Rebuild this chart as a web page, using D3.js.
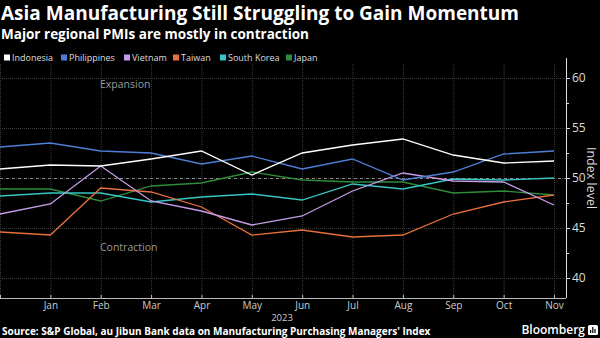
<!DOCTYPE html>
<html>
<head>
<meta charset="utf-8">
<script src="https://cdn.jsdelivr.net/npm/d3@7"></script>
<style>
  html, body { margin: 0; padding: 0; background: #000; }
  svg { display: block; font-family: "Open Sans", "Noto Sans", sans-serif; }
</style>
</head>
<body>
<svg id="chart" width="600" height="338"></svg>
<script>
// months plotted, Dec 2022 through Nov 2023
var months = ['Dec', 'Jan', 'Feb', 'Mar', 'Apr', 'May', 'Jun', 'Jul', 'Aug', 'Sep', 'Oct', 'Nov'];
var tickMonths = ['Jan', 'Feb', 'Mar', 'Apr', 'May', 'Jun', 'Jul', 'Aug', 'Sep', 'Oct', 'Nov'];
var yTicks = [40, 45, 50, 55, 60];

var countries = ['Indonesia', 'Philippines', 'Vietnam', 'Taiwan', 'South Korea', 'Japan'];
var indonesia   = [50.9, 51.3, 51.2, 51.9, 52.7, 50.3, 52.5, 53.3, 53.9, 52.3, 51.5, 51.7];
var philippines = [53.1, 53.5, 52.7, 52.5, 51.4, 52.2, 50.9, 51.9, 49.8, 50.6, 52.4, 52.7];
var vietnam     = [46.4, 47.4, 51.2, 47.7, 46.7, 45.3, 46.2, 48.7, 50.5, 49.7, 49.6, 47.3];
var taiwan      = [44.6, 44.3, 49.0, 48.6, 47.1, 44.3, 44.8, 44.1, 44.3, 46.4, 47.6, 48.3];
var southKorea  = [48.2, 48.5, 48.5, 47.6, 48.1, 48.4, 47.8, 49.4, 48.9, 49.9, 49.8, 50.0];
var japan       = [48.9, 48.9, 47.7, 49.2, 49.5, 50.6, 49.8, 49.6, 49.6, 48.5, 48.7, 48.3];

var colors = ['#ffffff', '#4d7fd6', '#c79ce8', '#e8703c', '#36c6c6', '#2f8c3b'];

(function () {
	var svg = d3.select('#chart');

	var plotLeft = 0, plotRight = 566, plotTop = 58, plotBottom = 298;

	// draw order: Japan at the back, Indonesia on top
	var series = [
		{ name: 'Japan', values: japan, color: colors[5] },
		{ name: 'South Korea', values: southKorea, color: colors[4] },
		{ name: 'Taiwan', values: taiwan, color: colors[3] },
		{ name: 'Vietnam', values: vietnam, color: colors[2] },
		{ name: 'Philippines', values: philippines, color: colors[1] },
		{ name: 'Indonesia', values: indonesia, color: colors[0] }
	];

	var x = d3.scalePoint()
		.domain(months)
		.range([plotLeft, 554]);

	var y = d3.scaleLinear()
		.domain([38, 62])
		.range([plotBottom, plotTop]);

	// titles
	svg.append('text')
		.attr('x', 1)
		.attr('y', 20)
		.attr('fill', '#fff')
		.style('font-size', '19px')
		.style('font-weight', 'bold')
		.text('Asia Manufacturing Still Struggling to Gain Momentum');

	svg.append('text')
		.attr('x', 1)
		.attr('y', 39)
		.attr('fill', '#fff')
		.style('font-size', '13.5px')
		.style('font-weight', 'bold')
		.text('Major regional PMIs are mostly in contraction');

	// legend
	var legendX = [4, 61, 124, 173, 220, 286];
	var legend = svg.append('g').attr('class', 'legend');
	countries.forEach(function (name, i) {
		var g = legend.append('g')
			.attr('transform', 'translate(' + [legendX[i], 58] + ')');
		g.append('rect')
			.attr('x', 0)
			.attr('y', -3.5)
			.attr('width', 6)
			.attr('height', 6)
			.attr('fill', colors[i]);
		g.append('text')
			.attr('x', 8)
			.attr('y', 3)
			.attr('fill', '#ddd')
			.style('font-size', '9px')
			.text(name);
	});

	// grid
	var grid = svg.append('g').attr('class', 'grid');
	grid.selectAll('line.v')
		.data(months)
		.enter().append('line')
		.attr('x1', function (d) { return x(d) + 0.5; })
		.attr('x2', function (d) { return x(d) + 0.5; })
		.attr('y1', 64)
		.attr('y2', plotBottom)
		.attr('stroke', '#3c3c3c')
		.attr('stroke-width', 1)
		.attr('stroke-dasharray', '1,1');

	grid.selectAll('line.h')
		.data(yTicks)
		.enter().append('line')
		.attr('x1', plotLeft)
		.attr('x2', plotRight)
		.attr('y1', function (d) { return y(d) + 0.5; })
		.attr('y2', function (d) { return y(d) + 0.5; })
		.attr('stroke', '#3c3c3c')
		.attr('stroke-width', 1)
		.attr('stroke-dasharray', '1,1');

	// 50 = expansion / contraction threshold
	svg.append('line')
		.attr('x1', plotLeft)
		.attr('x2', plotRight)
		.attr('y1', y(50) + 0.5)
		.attr('y2', y(50) + 0.5)
		.attr('stroke', '#8a8a8a')
		.attr('stroke-width', 1)
		.attr('stroke-dasharray', '3,3');

	svg.append('text')
		.attr('x', 100)
		.attr('y', 88)
		.attr('fill', '#9a9a9a')
		.style('font-size', '10.5px')
		.text('Expansion');

	svg.append('text')
		.attr('x', 100)
		.attr('y', 251)
		.attr('fill', '#9a9a9a')
		.style('font-size', '10.5px')
		.text('Contraction');

	// lines
	var line = d3.line()
		.x(function (d, i) { return x(months[i]); })
		.y(function (d) { return y(d); });

	svg.append('g').attr('class', 'lines')
		.selectAll('path')
		.data(series)
		.enter().append('path')
		.attr('d', function (d) { return line(d.values); })
		.attr('fill', 'none')
		.attr('stroke', function (d) { return d.color; })
		.attr('stroke-width', 1.3);

	// x axis
	var xAxis = svg.append('g')
		.attr('transform', 'translate(0,' + plotBottom + ')')
		.call(d3.axisBottom(x).tickValues(months).tickSize(3).tickFormat(function (d) {
			return tickMonths.indexOf(d) >= 0 ? d : '';
		}));
	xAxis.select('.domain').attr('stroke', '#bbb').attr('d', 'M0,0.5H' + plotRight);
	xAxis.selectAll('.tick line').attr('stroke', '#bbb').attr('y1', -3).attr('y2', 0);
	xAxis.selectAll('.tick text')
		.attr('y', 4)
		.attr('dy', '0.71em')
		.attr('fill', '#ccc')
		.style('font-size', '10px')
		.style('font-family', '"Open Sans", sans-serif');

	svg.append('text')
		.attr('x', 282)
		.attr('y', 321)
		.attr('text-anchor', 'middle')
		.attr('fill', '#ccc')
		.style('font-size', '9.5px')
		.text('2023');

	// y axis on the right
	var yAxis = svg.append('g')
		.attr('transform', 'translate(' + plotRight + ',0)')
		.call(d3.axisRight(y).tickValues(yTicks).tickSize(4).tickPadding(2));
	yAxis.select('.domain').attr('stroke', '#ddd').attr('d', 'M0.5,' + plotTop + 'V' + plotBottom);
	yAxis.selectAll('.tick line').attr('stroke', '#ddd');
	yAxis.selectAll('.tick text')
		.attr('fill', '#ddd')
		.style('font-size', '12px')
		.style('font-family', '"Open Sans", sans-serif');

	// minor ticks between the labelled ones
	yAxis.selectAll('line.minor')
		.data([42.5, 47.5, 52.5, 57.5])
		.enter().append('line')
		.attr('x1', 0)
		.attr('x2', 3)
		.attr('y1', function (d) { return y(d) + 0.5; })
		.attr('y2', function (d) { return y(d) + 0.5; })
		.attr('stroke', '#ddd');

	svg.append('text')
		.attr('transform', 'translate(' + [587, y(50)] + ') rotate(90)')
		.attr('text-anchor', 'middle')
		.attr('fill', '#ddd')
		.style('font-size', '12.5px')
		.text('Index level');

	// footer
	svg.append('text')
		.attr('x', 2)
		.attr('y', 335)
		.attr('fill', '#fff')
		.style('font-size', '10px')
		.style('font-weight', 'bold')
		.text("Source: S&P Global, au Jibun Bank data on Manufacturing Purchasing Managers' Index");

	svg.append('text')
		.attr('x', 585)
		.attr('y', 334)
		.attr('text-anchor', 'end')
		.attr('fill', '#fff')
		.style('font-size', '12px')
		.style('font-weight', '600')
		.text('Bloomberg');

	var logo = svg.append('g').attr('transform', 'translate(588,325)');
	logo.append('rect')
		.attr('width', 10)
		.attr('height', 10)
		.attr('rx', 1.5)
		.attr('fill', '#fff');
	logo.selectAll('rect.bar')
		.data([3, 6, 4])
		.enter().append('rect')
		.attr('x', function (d, i) { return 2 + i * 2.2; })
		.attr('y', function (d) { return 8 - d; })
		.attr('width', 1.2)
		.attr('height', function (d) { return d; })
		.attr('fill', '#000');
})();
</script>
</body>
</html>
